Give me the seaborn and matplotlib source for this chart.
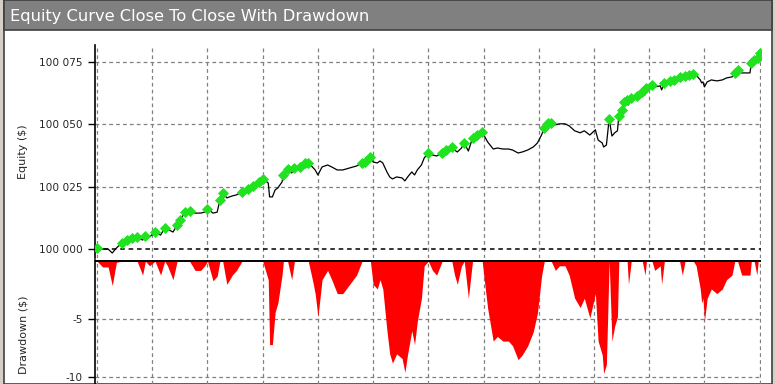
import matplotlib
matplotlib.use("Agg")
import matplotlib.pyplot as plt
import numpy as np
import pandas as pd
import seaborn as sns
from matplotlib.patches import Rectangle
from matplotlib.ticker import FuncFormatter

# Data: trade number and equity change from the $100 000 start
START = 100000
trade = [0, 4, 8, 11, 14, 18, 22, 25, 29, 33, 35, 38, 42, 46, 49, 51, 55, 58, 60, 64,
         67, 71, 75, 78, 80, 84, 87, 89, 91, 94, 98, 101, 105, 109, 113, 117, 120, 124, 125, 127,
         129, 131, 134, 135, 138, 141, 143, 147, 151, 153, 156, 158, 160, 163, 167, 170, 174, 178, 183, 188,
         192, 194, 198, 200, 203, 205, 207, 210, 212, 214, 217, 221, 223, 225, 228, 230, 232, 235, 237, 240,
         243, 246, 250, 253, 257, 259, 261, 264, 266, 269, 272, 275, 279, 281, 283, 287, 290, 294, 298, 301,
         305, 308, 312, 316, 319, 322, 324, 327, 329, 332, 335, 339, 342, 346, 350, 353, 357, 361, 363, 366,
         367, 369, 371, 373, 375, 377, 378, 380, 382, 384, 385, 387, 391, 395, 397, 398, 402, 404, 408, 409,
         411, 415, 418, 422, 424, 426, 429, 432, 434, 437, 438, 439, 440, 442, 445, 449, 453, 456, 460, 462,
         464, 467, 471, 473, 474, 476, 478, 479, 480]
equity_chg = [0.5, 0.0, 0.0, -1.6, 0.4, 2.4, 3.6, 4.4, 4.8, 3.6, 5.2, 4.8, 6.8, 5.6, 8.4, 8.0, 6.8, 9.6, 11.6, 14.8,
              15.2, 14.4, 14.4, 14.8, 16.1, 14.4, 14.8, 19.7, 22.5, 20.5, 21.3, 21.7, 22.9, 24.1, 25.3, 26.9, 28.1, 26.5, 20.9, 20.9,
              23.7, 24.5, 26.9, 29.7, 32.1, 30.5, 32.5, 32.9, 34.5, 34.5, 32.9, 31.7, 29.7, 32.9, 33.7, 32.9, 31.7, 31.7, 32.5, 33.3,
              34.5, 34.9, 36.9, 34.9, 34.5, 35.3, 34.5, 30.9, 28.9, 28.1, 28.9, 28.5, 27.3, 28.9, 30.9, 29.7, 31.7, 33.7, 36.5, 38.5,
              37.7, 37.3, 38.5, 39.7, 40.9, 39.7, 38.9, 40.5, 42.5, 39.3, 44.5, 45.7, 47.0, 44.9, 42.9, 40.1, 40.5, 40.1, 40.1, 39.7,
              38.5, 38.9, 39.7, 40.9, 42.5, 45.7, 48.6, 50.6, 50.6, 49.8, 50.2, 50.2, 49.4, 47.4, 46.6, 47.4, 45.7, 47.8, 43.7, 42.5,
              40.9, 41.7, 52.2, 45.3, 46.6, 47.4, 53.4, 55.8, 59.0, 59.8, 57.8, 60.6, 61.4, 63.0, 61.8, 64.6, 65.8, 65.0, 65.4, 63.8,
              66.6, 67.4, 67.8, 69.0, 67.8, 69.4, 69.8, 70.2, 69.8, 67.8, 66.6, 67.0, 65.0, 67.0, 67.8, 67.4, 67.8, 68.6, 69.0, 70.6,
              71.8, 70.6, 70.6, 70.6, 74.6, 75.8, 74.6, 76.6, 78.7]

equity_ticks = [100000, 100025, 100050, 100075]
drawdown_ticks = [-5, -10]

df = pd.DataFrame({"trade": trade, "equity": START + np.array(equity_chg)})
df["peak"] = df["equity"].cummax()
df["drawdown"] = df["equity"] - df["peak"]
highs = df[df["drawdown"] >= 0]

sns.set_style("white")
plt.rcParams["font.family"] = ["DejaVu Sans"]

fig = plt.figure(figsize=(7.75, 3.84), dpi=100)
W, H = 775, 384

# window frame and title bar
fig.add_artist(Rectangle((0, 0), 1, 1, transform=fig.transFigure, facecolor="#d4d0c8", edgecolor="none", zorder=-3))
fig.add_artist(Rectangle((4 / W, 0), 768 / W, 1, transform=fig.transFigure, facecolor="white",
                         edgecolor="#404040", linewidth=1.2, zorder=-2))
fig.add_artist(Rectangle((4 / W, 1 - 30 / H), 768 / W, 30 / H, transform=fig.transFigure,
                         facecolor="#808080", edgecolor="#404040", linewidth=1.2, zorder=-1))
fig.text(10 / W, 1 - 16 / H, "Equity Curve Close To Close With Drawdown", color="white",
         fontsize=11.7, va="center", ha="left")

left, width = 95 / W, 666 / W
ax1 = fig.add_axes([left, 1 - 258 / H, width, 213 / H])
ax2 = fig.add_axes([left, 0, width, 124 / H])

dash = (0, (3, 2.5))
grid_x = np.arange(0, 481, 40)
for ax in (ax1, ax2):
    ax.set_facecolor("none")
    for s in ("top", "right", "bottom"):
        ax.spines[s].set_visible(False)
    ax.spines["left"].set_color("black")
    ax.spines["left"].set_linewidth(1.2)
    ax.set_xlim(-1.5, 481)
    ax.set_xticks(grid_x)
    ax.tick_params(axis="x", bottom=False, labelbottom=False)
    ax.tick_params(axis="y", left=True, length=5, width=1, color="black", labelsize=7.6, pad=4)
    ax.grid(True, axis="x", color="#808080", linestyle=dash, linewidth=0.9)

# equity panel
sns.lineplot(data=df, x="trade", y="equity", color="black", linewidth=0.9, ax=ax1, zorder=3)
sns.scatterplot(data=highs, x="trade", y="equity", color="#1fe31f", marker="D", s=32,
                edgecolor="#1fe31f", linewidth=0, ax=ax1, zorder=4)
ax1.set_ylim(99996.4, 100081.8)
ax1.set_yticks(equity_ticks)
ax1.yaxis.set_major_formatter(FuncFormatter(lambda v, p: f"{v:,.0f}".replace(",", " ")))
for t in equity_ticks[1:]:
    ax1.axhline(t, color="#808080", linestyle=dash, linewidth=0.9, zorder=1)
ax1.axhline(START, color="black", linestyle=dash, linewidth=1.1, zorder=2)
ax1.set_xlabel("")
ax1.set_ylabel("Equity ($)", fontsize=8)

# drawdown panel
ax2.fill_between(df["trade"], df["drawdown"], 0, color="#ff0000", linewidth=0, zorder=2)
ax2.axhline(0, color="black", linewidth=1.4, zorder=3)
ax2.set_ylim(-10.6, 0.1)
ax2.set_yticks(drawdown_ticks)
ax2.yaxis.set_major_formatter(FuncFormatter(lambda v, p: f"{v:.0f}"))
for t in drawdown_ticks:
    ax2.axhline(t, color="#808080", linestyle=dash, linewidth=0.9, zorder=1)
ax2.set_ylabel("Drawdown ($)", fontsize=8)
ax2.yaxis.set_label_coords(-0.1, 0.4)
ax1.yaxis.set_label_coords(-0.1, 0.5)

fig.savefig("out.png", dpi=100)
